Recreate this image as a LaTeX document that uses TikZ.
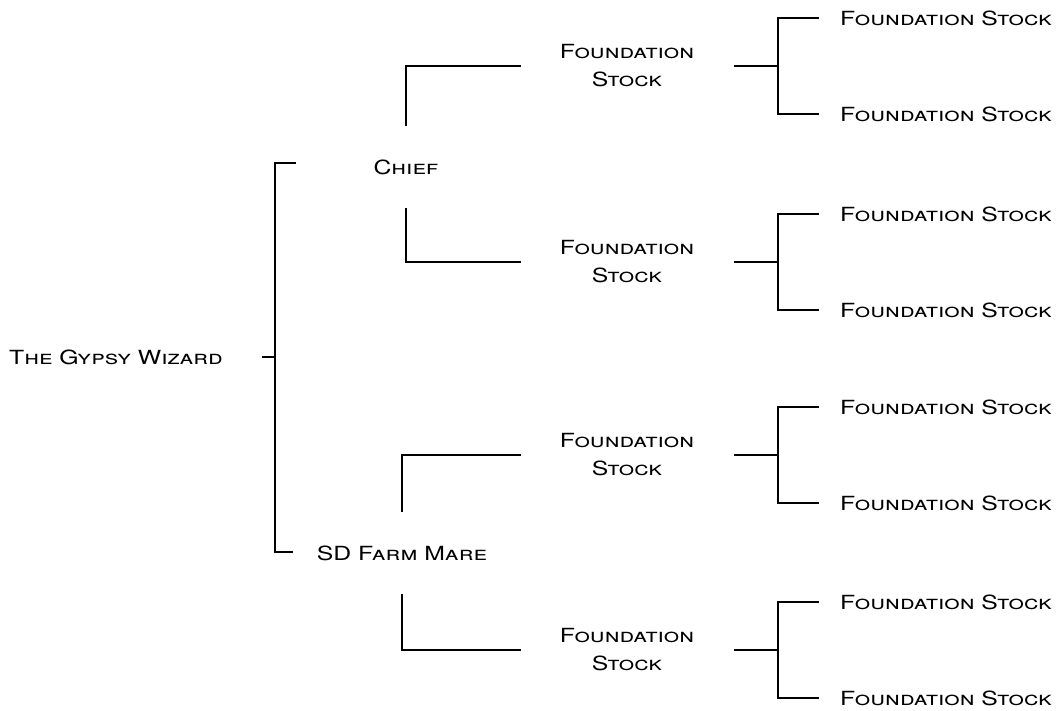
\documentclass[tikz,border=0pt]{standalone}
\usepackage{fontspec}
\setmainfont{TeX Gyre Heros}[FakeStretch=1.27]
\usepackage{tikz}
\usetikzlibrary{positioning}

\tikzset{
  horse/.style={font=\fontsize{19.5}{28}\selectfont\scshape, inner sep=0pt, align=center},
  link/.style={line width=1.3pt, line cap=rect}
}

\begin{document}
\begin{tikzpicture}[x=1pt, y=-1pt]
    \useasboundingbox (0,0) rectangle (1062,710);

    % Root and its parents
    \node[horse] (gypsy) at (116,357) {The Gypsy Wizard};
    \node[horse] (chief) at (406,167) {Chief};
    \node[horse] (mare) at (402,553) {SD Farm Mare};

    % Bracket from the root to sire and dam
    \coordinate (j0) at (275,357);
    \coordinate (s0) at (295,163);
    \coordinate (d0) at (292,552);
    \draw[link] ([xshift=40pt]gypsy.east) -- (j0);
    \draw[link] (s0) -| (j0) |- (d0);

    % Grandparents and their brackets to the outer column
    \foreach \n/\y in {1/66, 2/262, 3/455, 4/650} {
        \node[horse] (fs\n) at (627,\y) {Foundation\\Stock};
        \coordinate (j\n) at (778,\y);
        \node[horse, anchor=west] (fs\n a) at (840,\y-48) {Foundation Stock};
        \node[horse, anchor=west] (fs\n b) at (840,\y+48) {Foundation Stock};
        \draw[link] ([xshift=40pt]fs\n.east) -- (j\n);
        \draw[link] ([xshift=-22pt]fs\n a.west) -| (j\n) |- ([xshift=-22pt]fs\n b.west);
    }

    % Sire and dam to the grandparents
    \draw[link] ([yshift=34pt]chief.north) |- ([xshift=-39pt]fs1.west);
    \draw[link] ([yshift=-34pt]chief.south) |- ([xshift=-39pt]fs2.west);
    \draw[link] ([yshift=34pt]mare.north) |- ([xshift=-39pt]fs3.west);
    \draw[link] ([yshift=-34pt]mare.south) |- ([xshift=-39pt]fs4.west);
\end{tikzpicture}
\end{document}
